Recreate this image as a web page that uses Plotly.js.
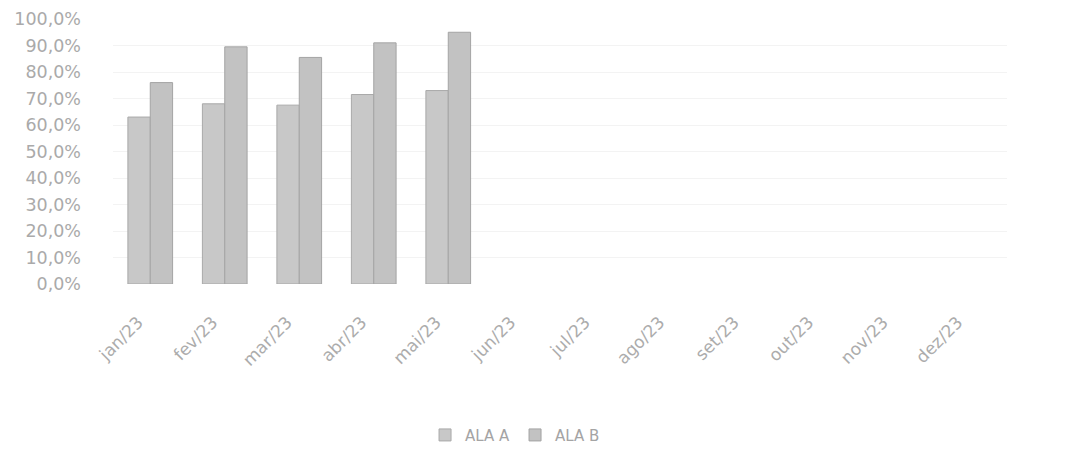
<!DOCTYPE html>
<html>
<head>
<meta charset="utf-8">
<script src="https://cdn.plot.ly/plotly-3.0.1.min.js"></script>
<style>html,body{margin:0;padding:0;background:#fff;}#chart{width:1073px;height:472px;}</style>
</head>
<body>
<div id="chart"></div>
<script>
const categories = ["jan/23","fev/23","mar/23","abr/23","mai/23","jun/23","jul/23","ago/23","set/23","out/23","nov/23","dez/23"];
const alaA = [63, 68, 67.5, 71.5, 73, null, null, null, null, null, null, null];
const alaB = [76, 89.5, 85.5, 91, 95, null, null, null, null, null, null, null];
const yTicks = [0,10,20,30,40,50,60,70,80,90,100];
const yTickText = yTicks.map(v => v.toFixed(1).replace(".", ",") + "%");

const traces = [
  {type:"bar", name:"ALA A", x:categories, y:alaA,
   marker:{color:"#c8c8c8", line:{color:"#a9a9a9", width:1}}},
  {type:"bar", name:"ALA B", x:categories, y:alaB,
   marker:{color:"#c2c2c2", line:{color:"#a4a4a4", width:1}}}
];

const layout = {
  width:1073, height:472,
  margin:{l:113, r:66, t:19, b:188},
  paper_bgcolor:"#fff", plot_bgcolor:"#fff",
  barmode:"group", bargap:0.4, bargroupgap:0,
  font:{family:"DejaVu Sans, sans-serif", color:"#a8a8a8"},
  xaxis:{type:"category", tickangle:-45, showgrid:false, showline:false, ticks:"",
         tickfont:{family:"DejaVu Sans, sans-serif", size:17, color:"#acacac"},
         ticklabelstandoff:24, ticklabelshift:-12, zeroline:false, automargin:false},
  yaxis:{range:[0,100], tickvals:yTicks, ticktext:yTickText,
         showgrid:true, gridcolor:"#f3f3f3", gridwidth:1, zeroline:false, showline:false,
         tickfont:{family:"DejaVu Sans, sans-serif", size:17.5, color:"#aaaaaa"},
         ticklabelstandoff:31, automargin:false},
  legend:{orientation:"h", x:0.48, xanchor:"center", xref:"container",
          y:0.078, yanchor:"middle", yref:"container",
          font:{family:"DejaVu Sans, sans-serif", size:15, color:"#a4a4a4"},
          itemwidth:30, traceorder:"normal"},
  showlegend:true
};

Plotly.newPlot("chart", traces, layout, {displayModeBar:false, staticPlot:true});
</script>
</body>
</html>
